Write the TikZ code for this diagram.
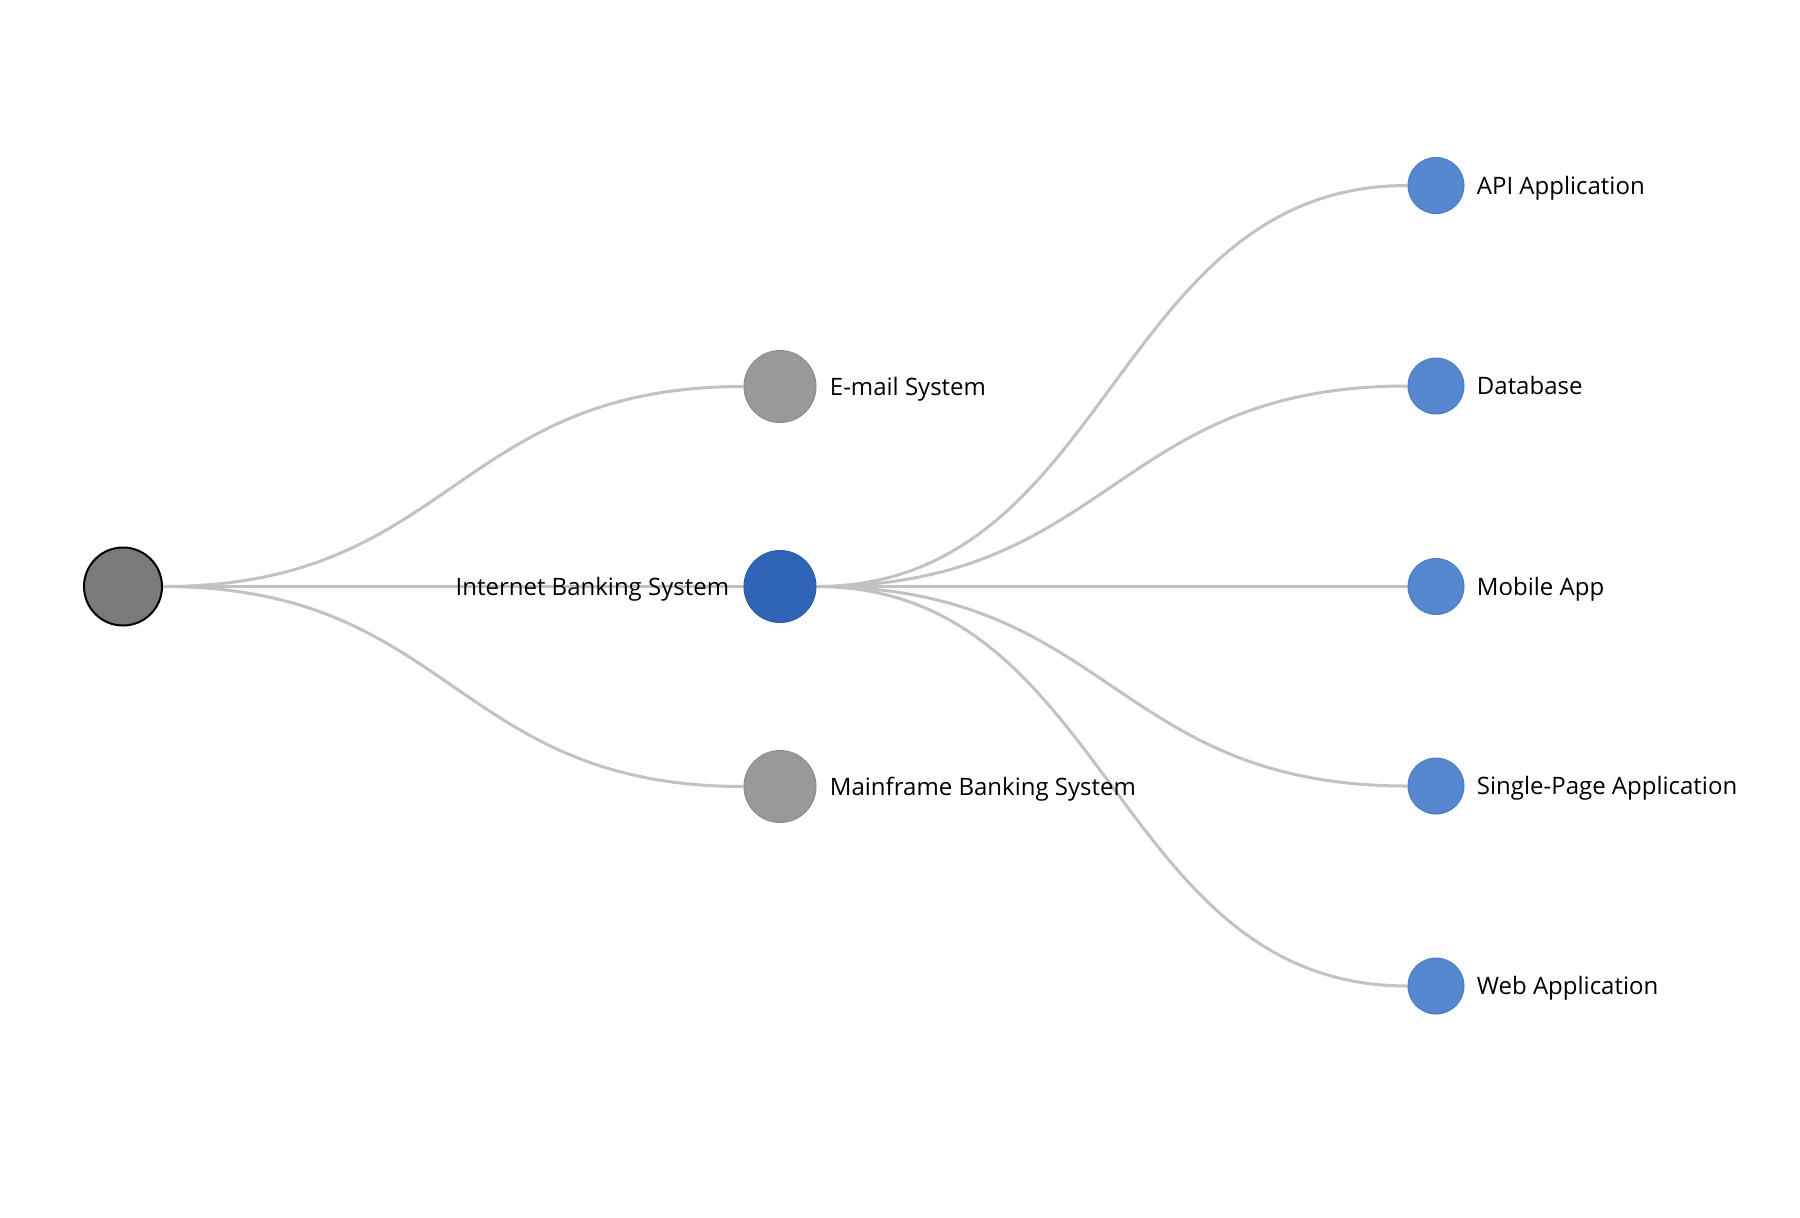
\documentclass[tikz,border=0pt]{standalone}
\usepackage{fontspec}
\setmainfont{Open Sans}
\usetikzlibrary{positioning,calc,backgrounds}
\definecolor{rootgray}{HTML}{7A7A7A}
\definecolor{sysgray}{HTML}{999999}
\definecolor{sysedge}{HTML}{8C8C8C}
\definecolor{ibsblue}{HTML}{2E64B3}
\definecolor{ibsedge}{HTML}{2A5CA6}
\definecolor{contblue}{HTML}{5588CF}
\definecolor{contedge}{HTML}{4A7CC3}
\definecolor{linkgray}{HTML}{C2C2C2}
\begin{document}
\begin{tikzpicture}[x=0.5pt,y=-0.5pt,
    root/.style={circle,draw=black,line width=1pt,fill=rootgray,minimum size=39pt,inner sep=0pt},
    system/.style={circle,draw=sysedge,line width=0.5pt,fill=sysgray,minimum size=36pt,inner sep=0pt},
    focus/.style={circle,draw=ibsedge,line width=0.5pt,fill=ibsblue,minimum size=36pt,inner sep=0pt},
    container/.style={circle,draw=contedge,line width=0.5pt,fill=contblue,minimum size=28pt,inner sep=0pt},
    lbl/.style={font=\fontsize{12}{14}\selectfont,inner sep=0pt,text height=8.6pt,text depth=0pt},
    link/.style={draw=linkgray,line width=1.5pt}]
    \useasboundingbox (0,0) rectangle (1800,1217);
    %% root and systems
    \node[root] (root) at (123,586.5) {};
    \node[system] (email) at (780,386.5) {};
    \node[focus] (ibs) at (780,586.5) {};
    \node[system] (mainframe) at (780,786.5) {};
    \node[lbl,right=6.5pt of email] (email-label) {E-mail System};
    \node[lbl,left=7pt of ibs] (ibs-label) {Internet Banking System};
    \node[lbl,right=6.5pt of mainframe] (mainframe-label) {Mainframe Banking System};
    %% containers
    \foreach \n/\y/\t in {api/185.5/API Application,db/386/Database,mobile/586.5/Mobile App,spa/786/Single-Page Application,web/986/Web Application}{
        \node[container] (\n) at (1436,\y) {};
        \node[lbl,right=6pt of \n] (\n-label) {\t};
    }
    %% links
    \begin{scope}[on background layer]
        \foreach \s/\t in {root/email,root/ibs,root/mainframe,ibs/api,ibs/db,ibs/mobile,ibs/spa,ibs/web}
            \draw[link] let \p1=(\s.east), \p2=(\t.west) in
                (\p1) .. controls ({(\x1+\x2)/2},\y1) and ({(\x1+\x2)/2},\y2) .. (\p2);
    \end{scope}
\end{tikzpicture}
\end{document}
